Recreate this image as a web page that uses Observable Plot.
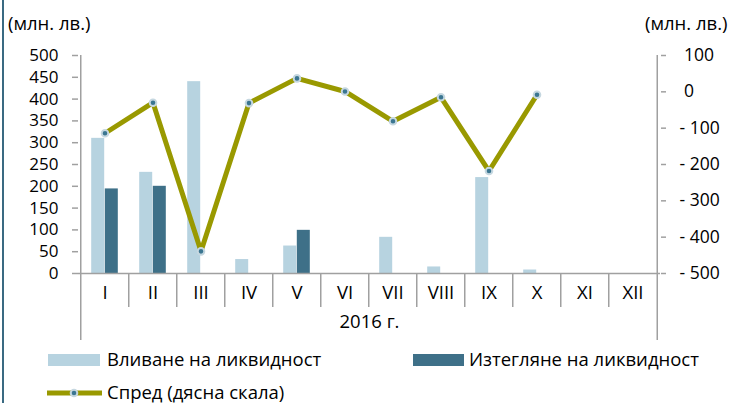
<!DOCTYPE html>
<html>
<head>
<meta charset="utf-8">
<script src="https://cdn.jsdelivr.net/npm/d3@7"></script>
<script src="https://cdn.jsdelivr.net/npm/@observablehq/plot@0.6"></script>
<style>
  html, body { margin: 0; padding: 0; background: #fff; }
  #wrap { position: relative; width: 733px; height: 403px; overflow: hidden; font-family: 'Open Sans', sans-serif; color: #000; }
  #chart { position: absolute; left: 0; top: 0; }
  .lbl { position: absolute; font-size: 18.5px; line-height: 1; white-space: nowrap; }
  .sw { position: absolute; }
  #border { position: absolute; left: 2px; top: 0; width: 2px; height: 403px; background: #3a6a82; }
</style>
</head>
<body>
<div id="wrap">
  <div id="chart"></div>
  <div id="border"></div>
  <div class="lbl" style="left:8px; top:14px;">(млн. лв.)</div>
  <div class="lbl" style="left:645px; top:14px;">(млн. лв.)</div>
  <div class="sw" style="left:48px; top:354px; width:52px; height:12px; background:#b7d3e0;"></div>
  <div class="lbl" style="left:107px; top:350px;">Вливане на ликвидност</div>
  <div class="sw" style="left:413px; top:354px; width:51px; height:12px; background:#3e7088;"></div>
  <div class="lbl" style="left:469px; top:350px;">Изтегляне на ликвидност</div>
  <svg class="sw" style="left:46px; top:386px;" width="57" height="14">
    <line x1="1" y1="7" x2="56" y2="7" stroke="#999900" stroke-width="5"/>
    <circle cx="28" cy="7" r="3.3" fill="#3b7691" stroke="#c5d7e0" stroke-width="2"/>
  </svg>
  <div class="lbl" style="left:107px; top:383px;">Спред (дясна скала)</div>
</div>
<script>
const months = ["I", "II", "III", "IV", "V", "VI", "VII", "VIII", "IX", "X", "XI", "XII"];
const inflow = [310, 232, 440, 32, 63, null, 83, 15, 220, 8, null, null];
const outflow = [194, 200, null, null, 99, null, null, null, null, null, null, null];
const spread = [-114, -30, -439, -31, 37, 1, -81, -15, -218, -8, null, null];
const leftTicks = [0, 50, 100, 150, 200, 250, 300, 350, 400, 450, 500];
const rightTicks = [100, 0, -100, -200, -300, -400, -500];
const yearLabel = ["2016 г."];

// right scale (-500..100) mapped onto left scale (0..500)
const toLeft = s => (s + 500) * 500 / 600;
const fromLeft = v => Math.round(v * 600 / 500 - 500);
const fmtRight = s => s < 0 ? "- " + (-s) : "\u00a0" + s;

const data = months.map((m, i) => ({month: m, inflow: inflow[i], outflow: outflow[i], spread: spread[i]}));
const half = 24.25;
const axisGray = "#a0a0a0";

const chart = Plot.plot({
  width: 733,
  height: 403,
  marginLeft: 78,
  marginRight: 73,
  marginTop: 55,
  marginBottom: 130,
  style: {fontFamily: "'Open Sans', sans-serif", fontSize: "18.5px", color: "#000", background: "transparent"},
  x: {domain: months, paddingInner: 0.72, paddingOuter: 0.36, axis: null, label: null},
  y: {domain: [0, 500], axis: null, label: null},
  marks: [
    Plot.barY(data.filter(d => d.inflow != null), {x: "month", y: "inflow", fill: "#b7d3e0", dx: -6.8}),
    Plot.barY(data.filter(d => d.outflow != null), {x: "month", y: "outflow", fill: "#3e7088", dx: 6.8}),
    Plot.ruleY([0], {stroke: axisGray, strokeWidth: 1.5}),
    Plot.ruleX(["I"], {x: d => d, dx: -half, y1: 0, y2: 500, stroke: axisGray, strokeWidth: 1.5}),
    Plot.ruleX(["XII"], {x: d => d, dx: half, y1: 0, y2: 500, stroke: axisGray, strokeWidth: 1.5}),
    Plot.axisX(months.slice(1), {tickSize: 34, dx: -half, tickFormat: () => "", stroke: axisGray, strokeWidth: 1.5}),
    Plot.axisX(["I"], {tickSize: 67, dx: -half, tickFormat: () => "", stroke: axisGray, strokeWidth: 1.5}),
    Plot.axisX(["XII"], {tickSize: 67, dx: half, tickFormat: () => "", stroke: axisGray, strokeWidth: 1.5}),
    Plot.axisX(months, {tickSize: 0, tickPadding: 12, fill: "#000"}),
    Plot.text(yearLabel, {frameAnchor: "bottom", dy: 54, fill: "#000"}),
    Plot.axisY(leftTicks, {anchor: "left", tickSize: 6, tickPadding: 14, stroke: axisGray, strokeWidth: 1.5, fill: "#000", fontSize: 17}),
    Plot.axisY(rightTicks.map(toLeft), {anchor: "right", tickSize: 5, tickPadding: 14, textAnchor: "start", tickFormat: v => fmtRight(fromLeft(v)), stroke: axisGray, strokeWidth: 1.5, fill: "#000", fontSize: 17.5}),
    Plot.line(data.filter(d => d.spread != null), {x: "month", y: d => toLeft(d.spread), stroke: "#999900", strokeWidth: 5, strokeLinejoin: "miter"}),
    Plot.dot(data.filter(d => d.spread != null), {x: "month", y: d => toLeft(d.spread), r: 3.3, fill: "#3b7691", stroke: "#c5d7e0", strokeWidth: 2})
  ]
});
document.getElementById("chart").appendChild(chart);
</script>
</body>
</html>
